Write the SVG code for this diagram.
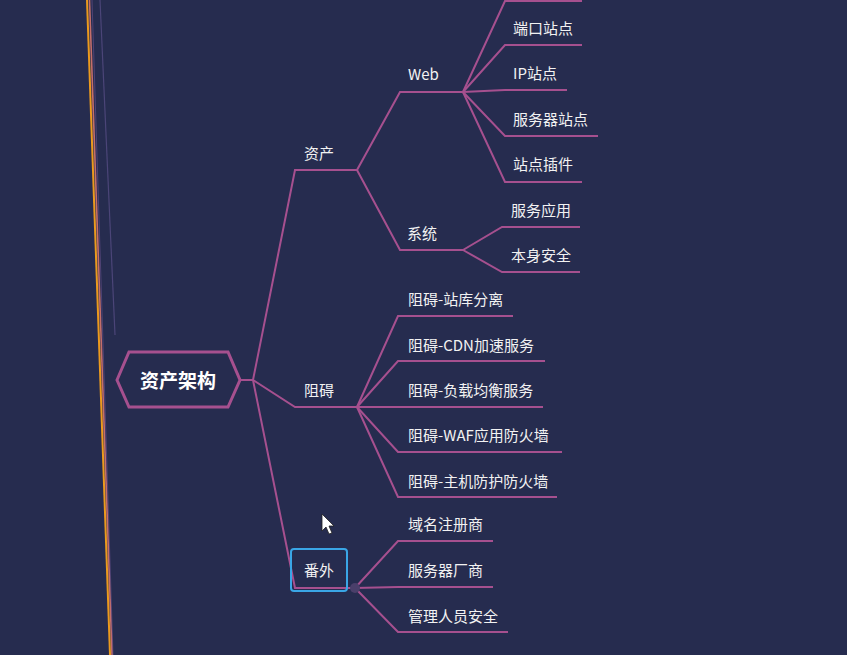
<svg xmlns="http://www.w3.org/2000/svg" width="847" height="655" viewBox="0 0 847 655">
<style>
.c{fill:none;stroke:#a6508f;stroke-width:2;stroke-linejoin:miter}
.t{font-family:"Noto Sans CJK SC","Noto Sans",sans-serif;font-size:15px;fill:#f2f2f2;dominant-baseline:central}
.r{font-family:"Noto Sans CJK SC","Noto Sans",sans-serif;font-size:19px;font-weight:bold;fill:#ffffff;dominant-baseline:central;text-anchor:middle}
</style>
<rect width="847" height="655" fill="#262c4f"/>
<g id="edge-lines">
<line x1="100" y1="0" x2="115" y2="335" stroke="#6a5a9a" stroke-width="1.2" opacity="0.55"/>
<line x1="89.5" y1="0" x2="112" y2="655" stroke="#e07a70" stroke-width="1.6" opacity="0.85"/>
<line x1="87" y1="0" x2="110" y2="655" stroke="#eb9a1e" stroke-width="2"/>
<line x1="92" y1="0" x2="113" y2="655" stroke="#7a5a9a" stroke-width="1" opacity="0.5"/>
</g>
<g id="connectors">
<polyline class="c" points="240,380 253,380 295,170 357,170"/>
<polyline class="c" points="253,380 295,407 357,407"/>
<polyline class="c" points="253,380 295,588 355,588"/>
<polyline class="c" points="357,170 400,92 463,92"/>
<polyline class="c" points="357,170 400,250 463,250"/>
<polyline class="c" points="463,92 505,1 582,1"/>
<polyline class="c" points="463,92 505,45 582,45"/>
<polyline class="c" points="463,92 505,90 567,90"/>
<polyline class="c" points="463,92 505,136 598,136"/>
<polyline class="c" points="463,92 505,182 582,182"/>
<polyline class="c" points="463,250 502,227 580,227"/>
<polyline class="c" points="463,250 502,272 580,272"/>
<polyline class="c" points="357,407 398,316 513,316"/>
<polyline class="c" points="357,407 398,361 545,361"/>
<polyline class="c" points="357,407 398,407 543,407"/>
<polyline class="c" points="357,407 398,452 562,452"/>
<polyline class="c" points="357,407 398,497 557,497"/>
<polyline class="c" points="355,588 398,541 493,541"/>
<polyline class="c" points="355,588 398,587 493,587"/>
<polyline class="c" points="355,588 398,632 508,632"/>
<circle cx="355" cy="588" r="5" fill="#4a3f6a"/>
</g>
<g id="root">
<polygon points="117,380 129,352 228,352 240,380 228,407 129,407" fill="#262c4f" stroke="#a6508f" stroke-width="3"/>
<text class="r" x="178" y="379">资产架构</text>
</g>
<g id="n-zichan"><text class="t" x="304" y="152">资产</text></g>
<g id="n-web"><text class="t" x="408" y="73">Web</text></g>
<g id="n-xitong"><text class="t" x="407" y="232">系统</text></g>
<g id="n-duankou"><text class="t" x="513" y="27">端口站点</text></g>
<g id="n-ip"><text class="t" x="513" y="72">IP站点</text></g>
<g id="n-fwq"><text class="t" x="513" y="118">服务器站点</text></g>
<g id="n-chajian"><text class="t" x="513" y="163">站点插件</text></g>
<g id="n-fwyy"><text class="t" x="511" y="209">服务应用</text></g>
<g id="n-bsaq"><text class="t" x="511" y="254">本身安全</text></g>
<g id="n-zuai"><text class="t" x="304" y="389">阻碍</text></g>
<g id="n-za1"><text class="t" x="408" y="298">阻碍-站库分离</text></g>
<g id="n-za2"><text class="t" x="408" y="344">阻碍-CDN加速服务</text></g>
<g id="n-za3"><text class="t" x="408" y="389">阻碍-负载均衡服务</text></g>
<g id="n-za4"><text class="t" x="408" y="434">阻碍-WAF应用防火墙</text></g>
<g id="n-za5"><text class="t" x="408" y="480">阻碍-主机防护防火墙</text></g>
<g id="n-fanwai">
<rect x="291" y="549" width="56" height="42" rx="3" fill="none" stroke="#3aa6e6" stroke-width="2"/>
<text class="t" x="304" y="569">番外</text>
</g>
<g id="n-ym"><text class="t" x="408" y="523">域名注册商</text></g>
<g id="n-cs"><text class="t" x="408" y="569">服务器厂商</text></g>
<g id="n-gl"><text class="t" x="408" y="615">管理人员安全</text></g>
<g id="cursor">
<polygon points="322,514 322,531 326,527 329,534 332,533 329,526 334,526" fill="#ffffff" stroke="#222" stroke-width="0.8"/>
</g>
</svg>
